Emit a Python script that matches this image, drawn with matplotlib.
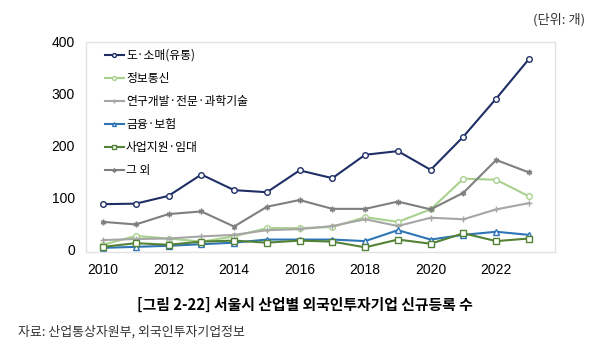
import matplotlib.pyplot as plt

plt.rcParams['font.family'] = ['Noto Sans CJK KR', 'DejaVu Sans']

years = list(range(2010, 2024))

# values (unit: count)
retail   = [88, 89, 104, 145, 115, 111, 153, 138, 183, 190, 154, 218, 291, 367]
ict      = [10, 27, 22, 16, 26, 42, 42, 44, 63, 54, 78, 137, 135, 103]
rnd      = [19, 21, 22, 26, 29, 38, 40, 46, 59, 46, 62, 59, 78, 90]
finance  = [4, 6, 8, 11, 14, 20, 20, 20, 17, 38, 20, 29, 35, 29]
business = [6, 13, 10, 16, 18, 14, 18, 16, 5, 20, 12, 32, 17, 22]
others   = [54, 49, 69, 74, 45, 83, 96, 79, 79, 93, 78, 110, 173, 149]

series = [
    ("도·소매(유통)",          retail,   "#1F2F66", "o"),
    ("정보통신",               ict,      "#A9D18E", "o"),
    ("연구개발·전문·과학기술", rnd,      "#A6A6A6", "+"),
    ("금융·보험",              finance,  "#2E75B6", "^"),
    ("사업지원·임대",          business, "#548235", "s"),
    ("그 외",                  others,   "#7F7F7F", (6, 2, 0)),
]

fig = plt.figure(figsize=(5.89, 3.58), dpi=100)
ax = fig.add_axes([0.146, 0.296, 0.796, 0.587])

for label, vals, color, marker in series:
    ax.plot(years, vals, color=color, linewidth=1.5, marker=marker,
            markersize=4, markerfacecolor="white", markeredgecolor=color,
            markeredgewidth=1, label=label)

ax.set_xlim(2009.48, 2023.79)
ax.set_ylim(-4, 400)
ax.set_xticks(range(2010, 2024, 2))
ax.set_yticks([0, 100, 200, 300, 400])
ax.tick_params(length=0, pad=8)
for lbl in ax.get_xticklabels() + ax.get_yticklabels():
    lbl.set_family(["Liberation Sans", "DejaVu Sans"])
    lbl.set_fontsize(10)
for s in ax.spines.values():
    s.set_color("#E3E3E3")
    s.set_linewidth(1)

leg = ax.legend(loc="upper left", bbox_to_anchor=(0.025, 1.0), frameon=False,
                fontsize=8.5, handlelength=1.6, handletextpad=0.2,
                labelspacing=0.85, borderaxespad=0.2, markerscale=0.7)

fig.text(0.993, 0.945, "(단위: 개)", ha="right", va="center", fontsize=9.5,
         color="#333333")
fig.text(0.518, 0.148, "[그림 2-22] 서울시 산업별 외국인투자기업 신규등록 수",
         ha="center", va="center", fontsize=10.7, fontweight="bold")
fig.text(0.03, 0.073, "자료: 산업통상자원부, 외국인투자기업정보",
         ha="left", va="center", fontsize=9.3, color="#333333")

fig.savefig("out.png", dpi=100)
